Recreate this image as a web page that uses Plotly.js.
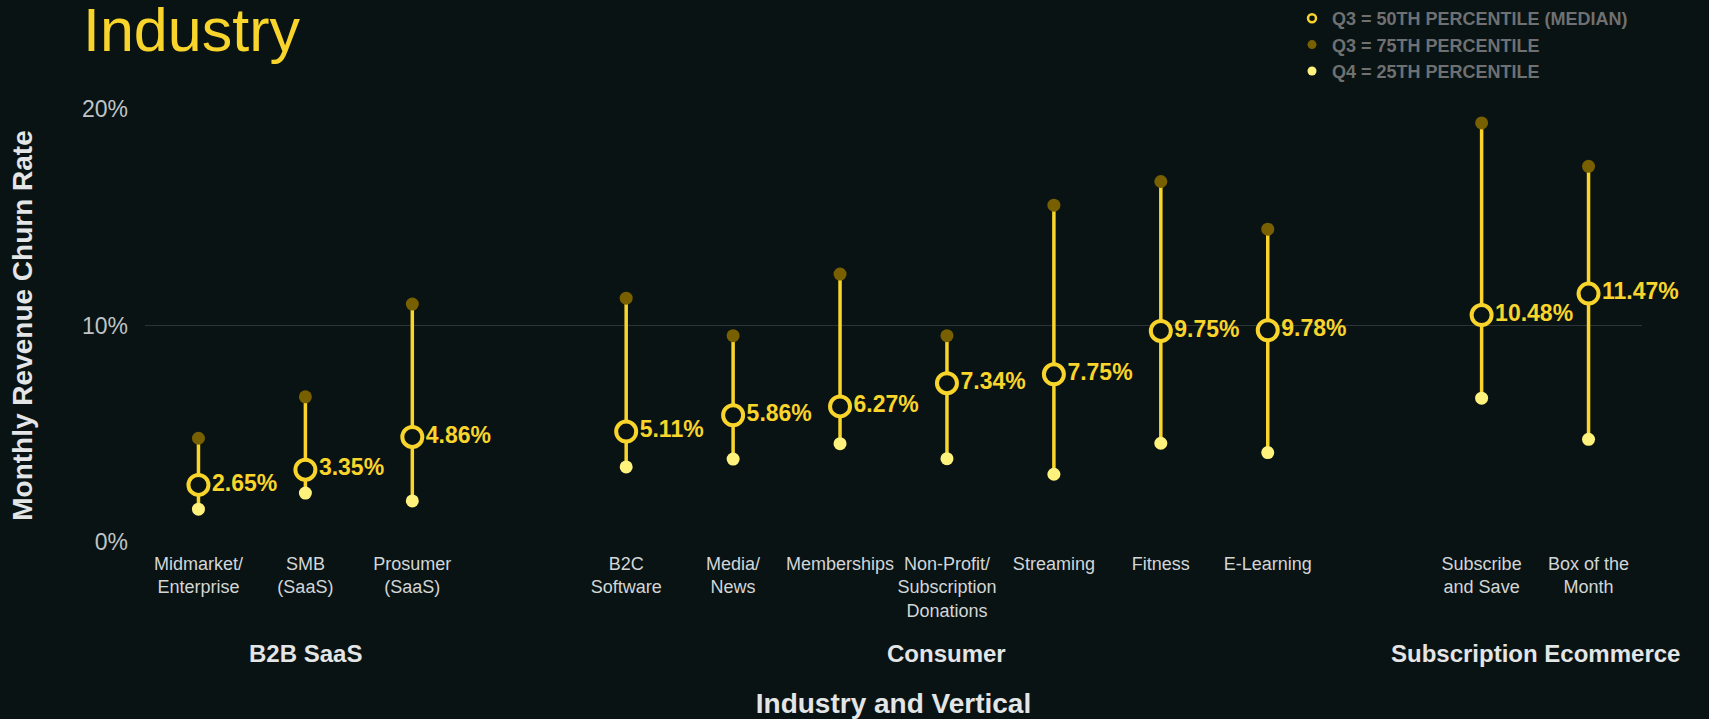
<!DOCTYPE html>
<html>
<head>
<meta charset="utf-8">
<script src="https://cdn.plot.ly/plotly-3.0.1.min.js"></script>
<style>
  html, body { margin: 0; padding: 0; background: #091313; }
  #chart { width: 1709px; height: 719px; }
</style>
</head>
<body>
<div id="chart"></div>
<script>
// ---- data ----
const categories = [
  "Midmarket/<br>Enterprise", "SMB<br>(SaaS)", "Prosumer<br>(SaaS)",
  "B2C<br>Software", "Media/<br>News", "Memberships", "Non-Profit/<br>Subscription<br>Donations",
  "Streaming", "Fitness", "E-Learning",
  "Subscribe<br>and Save", "Box of the<br>Month"
];
const categoryGroup = [
  "B2B SaaS", "B2B SaaS", "B2B SaaS",
  "Consumer", "Consumer", "Consumer", "Consumer", "Consumer", "Consumer", "Consumer",
  "Subscription Ecommerce", "Subscription Ecommerce"
];
const groupNames = ["B2B SaaS", "Consumer", "Subscription Ecommerce"];
const medianValues = [2.65, 3.35, 4.86, 5.11, 5.86, 6.27, 7.34, 7.75, 9.75, 9.78, 10.48, 11.47];
const p75Values    = [4.80, 6.71, 10.99, 11.26, 9.53, 12.37, 9.53, 15.55, 16.64, 14.44, 19.34, 17.34];
const p25Values    = [1.53, 2.27, 1.91, 3.48, 3.84, 4.55, 3.86, 3.14, 4.57, 4.14, 6.65, 4.75];
const yTickValues  = [0, 10, 20];
const yTickLabels  = ["0%", "10%", "20%"];
const legendNames  = ["Q3 = 50TH PERCENTILE (MEDIAN)", "Q3 = 75TH PERCENTILE", "Q4 = 25TH PERCENTILE"];

// ---- layout helpers (positions: one empty slot between groups) ----
const xPos = [];
let p = -1;
categories.forEach((c, i) => {
  p += 1;
  if (i > 0 && categoryGroup[i] !== categoryGroup[i - 1]) p += 1;
  xPos.push(p);
});
const groupCenters = groupNames.map(g => {
  const xs = xPos.filter((x, i) => categoryGroup[i] === g);
  return (Math.min(...xs) + Math.max(...xs)) / 2;
});

const BG = "#091313";
const YEL = "#f9d52c";
const DARK = "#786000";
const LIGHT = "#fff27c";
const FONT = "Liberation Sans, Arial, sans-serif";

const lineX = [], lineY = [];
xPos.forEach((x, i) => { lineX.push(x, x, null); lineY.push(p25Values[i], p75Values[i], null); });

const traces = [
  { type: "scatter", mode: "lines", x: lineX, y: lineY, showlegend: false, hoverinfo: "skip",
    line: { color: YEL, width: 3.5 } },
  { type: "scatter", mode: "markers", x: xPos, y: p75Values, showlegend: false,
    marker: { size: 13, color: DARK } },
  { type: "scatter", mode: "markers", x: xPos, y: p25Values, showlegend: false,
    marker: { size: 13, color: LIGHT } },
  { type: "scatter", mode: "markers+text", x: xPos, y: medianValues, showlegend: false,
    cliponaxis: false,
    text: medianValues.map(v => v.toFixed(2) + "%"), textposition: "middle right",
    textfont: { family: FONT, size: 23, color: YEL, weight: "bold" },
    marker: { size: 20, color: BG, line: { color: YEL, width: 4 } } },
  // legend proxies
  { type: "scatter", mode: "markers", x: [null], y: [null], name: legendNames[0],
    marker: { size: 8, color: BG, line: { color: YEL, width: 2.5 } } },
  { type: "scatter", mode: "markers", x: [null], y: [null], name: legendNames[1],
    marker: { size: 9, color: DARK } },
  { type: "scatter", mode: "markers", x: [null], y: [null], name: legendNames[2],
    marker: { size: 9, color: LIGHT } }
];

const annotations = groupNames.map((g, i) => ({
  text: g, x: groupCenters[i], xref: "x", y: -0.255, yref: "paper",
  xanchor: "center", yanchor: "middle", showarrow: false,
  font: { family: FONT, size: 24, color: "#e3e5e6", weight: "bold" }
}));

const layout = {
  width: 1709, height: 719,
  paper_bgcolor: BG, plot_bgcolor: BG,
  margin: { l: 145, r: 67, t: 108, b: 176, autoexpand: false },
  showlegend: true,
  title: {
    text: "Industry", xref: "container", yref: "container", x: 83 / 1709, xanchor: "left",
    y: 1 - 8 / 719, yanchor: "top", pad: { t: 0, b: 0, l: 0, r: 0 },
    font: { family: FONT, size: 61, color: YEL }
  },
  legend: {
    xref: "container", yref: "container", x: 1292 / 1709, xanchor: "left",
    y: 1 + 5 / 719, yanchor: "top", bgcolor: "rgba(0,0,0,0)",
    font: { family: FONT, size: 18, color: "#6f7071", weight: "bold" },
    itemclick: false
  },
  xaxis: {
    range: [-0.5, 13.5], showgrid: false, zeroline: false, showline: false,
    tickmode: "array", tickvals: xPos, ticktext: categories, ticks: "", tickangle: 0,
    tickfont: { family: FONT, size: 18, color: "#d3d6d7" },
    ticklabelstandoff: 8,
    title: { text: "Industry and Vertical", standoff: 74,
      font: { family: FONT, size: 28, color: "#e3e5e6", weight: "bold" } }
  },
  yaxis: {
    range: [-0.03, 20.03], tickmode: "array", tickvals: yTickValues, ticktext: yTickLabels,
    showgrid: true, gridcolor: "#2c3535", gridwidth: 1, zeroline: false, showline: false,
    ticks: "", ticklabelstandoff: 16,
    tickfont: { family: FONT, size: 23, color: "#bfc4c7" },
    title: { text: "Monthly Revenue Churn Rate", standoff: 41,
      font: { family: FONT, size: 28, color: "#e3e5e6", weight: "bold" } }
  },
  annotations: annotations
};

Plotly.newPlot("chart", traces, layout, { displayModeBar: false, staticPlot: true });
</script>
</body>
</html>
